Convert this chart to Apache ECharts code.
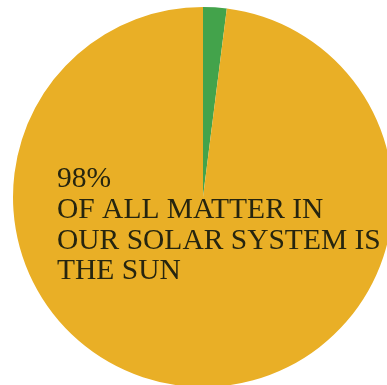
<!DOCTYPE html>
<html>
<head>
<meta charset="utf-8">
<script src="https://cdn.jsdelivr.net/npm/echarts@6/dist/echarts.min.js"></script>
<style>
  html, body { margin: 0; padding: 0; background: #fff; }
  #main { width: 387px; height: 385px; }
</style>
</head>
<body>
<div id="main"></div>
<script>
var names = ['Everything else', 'The Sun'];
var shares = [2, 98];
var colors = ['#43a34b', '#e9af26'];
var captionLines = ['OF ALL MATTER IN', 'OUR SOLAR SYSTEM IS', 'THE SUN'];

var dom = document.getElementById('main');
var myChart = echarts.init(dom);

var pieData = names.map(function (n, i) {
  return { name: n, value: shares[i], itemStyle: { color: colors[i] } };
});

var option = {
  backgroundColor: '#fff',
  animation: false,
  series: [{
    type: 'pie',
    center: [203, 197],
    radius: 190,
    startAngle: 90,
    clockwise: true,
    silent: true,
    label: { show: false },
    labelLine: { show: false },
    itemStyle: { borderWidth: 0 },
    data: pieData
  }],
  graphic: [{
    type: 'text',
    z: 100,
    left: 57,
    top: 164,
    style: {
      text: shares[1] + '%\n' + captionLines.join('\n'),
      fontFamily: 'Liberation Serif',
      fontSize: 29.5,
      lineHeight: 30.7,
      fill: '#26250f'
    }
  }]
};
myChart.setOption(option, true);
</script>
</body>
</html>
